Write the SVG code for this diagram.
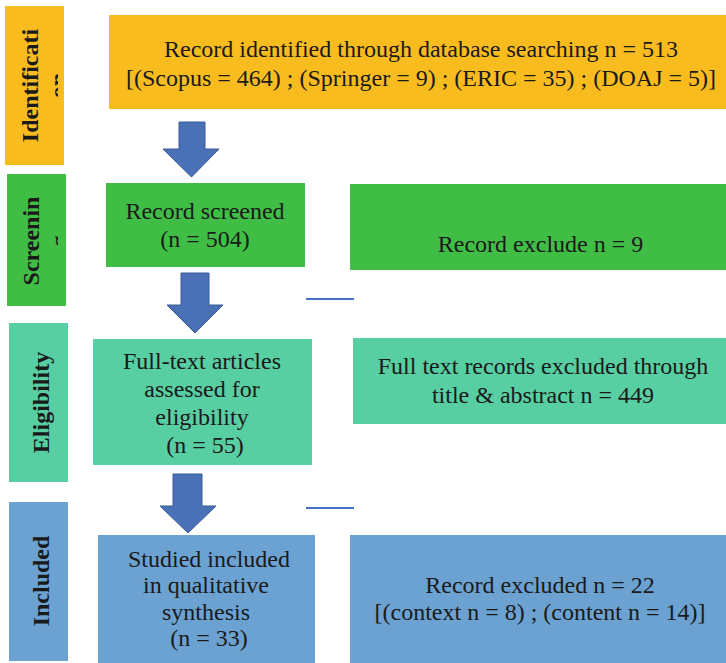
<svg xmlns="http://www.w3.org/2000/svg" width="726" height="663" viewBox="0 0 726 663">
<style>
.t{font-family:"Liberation Serif","Times New Roman",serif;font-size:24px;fill:#1a1a1a;text-anchor:middle}
.lb{font-family:"Liberation Serif","Times New Roman",serif;font-size:24px;font-weight:bold;fill:#1a1a1a;text-anchor:middle}
.y{fill:#F9BC1F}
.g{fill:#40BD45}
.e{fill:#58CEA3}
.b{fill:#6BA2D2}
.arr{fill:#4A70B5;stroke:#3A5A95;stroke-width:1}
.ln{stroke:#4472C4;stroke-width:2;fill:none}
</style>
<defs>
<clipPath id="cId"><rect x="5" y="6" width="53" height="159"/></clipPath>
<clipPath id="cSc"><rect x="7" y="174" width="51" height="132"/></clipPath>
</defs>
<rect width="726" height="663" fill="#ffffff"/>

<g id="label-identification">
<rect class="y" x="5" y="6" width="59" height="159"/>
<g clip-path="url(#cId)">
<text class="lb" transform="translate(38,85.5) rotate(-90)">Identificati</text>
<text class="lb" transform="translate(65.5,85.5) rotate(-90)">on</text>
</g>
</g>
<g id="label-screening">
<rect class="g" x="7" y="174" width="59" height="132"/>
<g clip-path="url(#cSc)">
<text class="lb" transform="translate(39,241) rotate(-90)">Screenin</text>
<text class="lb" transform="translate(66.5,241) rotate(-90)">g</text>
</g>
</g>
<g id="label-eligibility">
<rect class="e" x="9" y="323" width="59" height="159"/>
<text class="lb" transform="translate(49,402.5) rotate(-90)">Eligibility</text>
</g>
<g id="label-included">
<rect class="b" x="9" y="502" width="59" height="159"/>
<text class="lb" transform="translate(49,581) rotate(-90)">Included</text>
</g>

<g id="identified">
<rect class="y" x="109" y="15" width="617" height="94"/>
<text class="t" x="421" y="57">Record identified through database searching n = 513</text>
<text class="t" x="421" y="86">[(Scopus = 464) ; (Springer = 9) ; (ERIC = 35) ; (DOAJ = 5)]</text>
</g>
<g id="screened">
<rect class="g" x="106" y="183" width="199" height="84"/>
<text class="t" x="205" y="219">Record screened</text>
<text class="t" x="205" y="247">(n = 504)</text>
</g>
<g id="excluded-screen">
<rect class="g" x="350" y="184" width="376" height="86"/>
<text class="t" x="540.5" y="252">Record exclude n = 9</text>
</g>
<g id="eligible">
<rect class="e" x="93" y="339" width="219" height="126"/>
<text class="t" x="202" y="369">Full-text articles</text>
<text class="t" x="202" y="397">assessed for</text>
<text class="t" x="202" y="425">eligibility</text>
<text class="t" x="205" y="453">(n = 55)</text>
</g>
<g id="excluded-fulltext">
<rect class="e" x="353" y="338" width="373" height="86"/>
<text class="t" x="543" y="374">Full text records excluded through</text>
<text class="t" x="543" y="403">title &amp; abstract n = 449</text>
</g>
<g id="included">
<rect class="b" x="98" y="535" width="217" height="128"/>
<text class="t" x="209" y="567">Studied included</text>
<text class="t" x="206" y="593">in qualitative</text>
<text class="t" x="206" y="620">synthesis</text>
<text class="t" x="209" y="646">(n = 33)</text>
</g>
<g id="excluded-final">
<rect class="b" x="350" y="535" width="376" height="128"/>
<text class="t" x="540" y="593">Record excluded n = 22</text>
<text class="t" x="540" y="620">[(context n = 8) ; (content n = 14)]</text>
</g>

<g id="connectors">
<polygon class="arr" points="179,122 205,122 205,149 219,149 191.5,177 163,149 179,149"/>
<polygon class="arr" points="181,273 209,273 209,305 223,305 195,333 167,305 181,305"/>
<polygon class="arr" points="173,474 202,474 202,506 216,506 188,533 160,506 173,506"/>
<line class="ln" x1="306" y1="299" x2="354" y2="299"/>
<line class="ln" x1="306" y1="508" x2="354" y2="508"/>
</g>
</svg>
